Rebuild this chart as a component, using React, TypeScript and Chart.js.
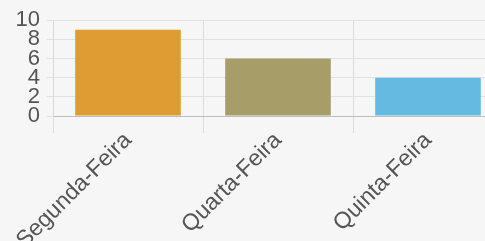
import React, { useEffect, useRef } from "react";
import { Chart, registerables } from "chart.js";

Chart.register(...registerables);

const categories = ["Segunda-Feira", "Quarta-Feira", "Quinta-Feira"];
const values = [9, 6, 4];
const barColors = ["#df9c32", "#a79d69", "#64bae0"];
const yTicks = [0, 2, 4, 6, 8, 10];

export default function App() {
  const ref = useRef<HTMLCanvasElement | null>(null);

  useEffect(() => {
    document.body.style.margin = "0";
    const ctx = ref.current!;
    const chart = new Chart(ctx, {
      type: "bar",
      data: {
        labels: categories,
        datasets: [
          {
            data: values,
            backgroundColor: barColors,
            borderWidth: 0,
            barPercentage: 0.88,
            categoryPercentage: 0.8,
          },
        ],
      },
      options: {
        animation: false,
        responsive: false,
        maintainAspectRatio: false,
        layout: { padding: { top: 12, right: 0, left: 0, bottom: 0 } },
        plugins: { legend: { display: false }, tooltip: { enabled: false } },
        scales: {
          x: {
            grid: { color: "#dcdcdc", tickLength: 17, offset: true },
            border: { color: "#bdbdbd" },
            ticks: {
              color: "#555",
              font: { family: "Arial, 'Liberation Sans'", size: 23 },
              minRotation: 45,
              maxRotation: 45,
              padding: -6,
              autoSkip: false,
            },
            afterFit: (s: any) => {
              s.height = 125;
            },
          },
          y: {
            min: 0,
            max: 10,
            afterBuildTicks: (s: any) => {
              s.ticks = yTicks.map((v) => ({ value: v }));
            },
            grid: { color: "#e2e2e2", tickLength: 6 },
            border: { color: "#d8d8d8" },
            ticks: {
              color: "#555",
              font: { family: "Arial, 'Liberation Sans'", size: 22 },
              padding: 7,
              autoSkip: false,
              stepSize: 2,
            },
            afterFit: (s: any) => {
              s.width = 53;
            },
          },
        },
      },
    });
    return () => chart.destroy();
  }, []);

  return (
    <div style={{ width: 485, height: 241, overflow: "hidden", background: "#f6f6f6" }}>
      <canvas ref={ref} width={503} height={241} style={{ display: "block" }} />
    </div>
  );
}
